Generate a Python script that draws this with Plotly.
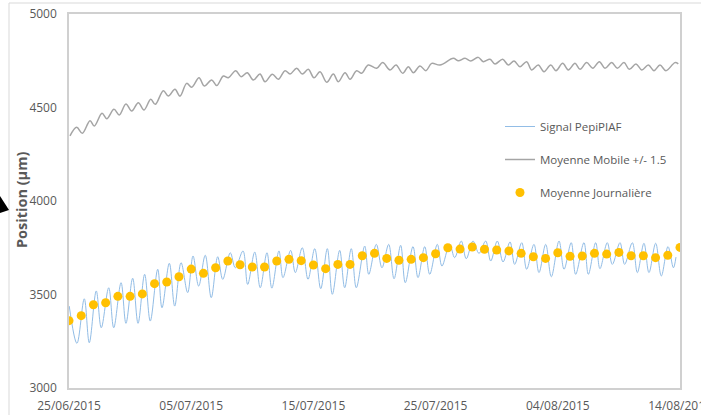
import pandas as pd
import plotly.graph_objects as go

start = pd.Timestamp("2015-06-25")

# Daily mean (one per day, 25/06/2015 .. 14/08/2015)
daily_mean = [3360, 3387, 3445, 3456, 3490, 3490, 3503, 3558, 3567, 3595,
              3636, 3613, 3643, 3679, 3659, 3647, 3647, 3679, 3688, 3681,
              3658, 3638, 3661, 3661, 3707, 3720, 3693, 3683, 3688, 3697,
              3718, 3750, 3743, 3754, 3742, 3738, 3733, 3720, 3702, 3693,
              3723, 3704, 3706, 3720, 3716, 3725, 3707, 3707, 3697, 3710,
              3752]

# PepiPIAF signal: day offset since 25/06/2015 and value (µm)
signal_day = [0.02, 0.65, 1.25, 1.66, 2.23, 2.64, 3.25, 3.66, 4.26, 4.66,
              5.21, 5.65, 6.19, 6.65, 7.26, 7.61, 8.21, 8.65, 9.17, 9.71,
              10.15, 10.61, 11.15, 11.64, 12.17, 12.58, 13.20, 13.61, 14.24, 14.62,
              15.20, 15.65, 16.20, 16.60, 17.18, 17.51, 18.14, 18.52, 19.09, 19.56,
              20.11, 20.60, 21.14, 21.55, 22.15, 22.56, 23.10, 23.51, 24.20, 24.53,
              25.15, 25.61, 26.16, 26.60, 27.14, 27.52, 28.15, 28.56, 29.11, 29.52,
              30.14, 30.52, 31.15, 31.56, 32.10, 32.51, 33.06, 33.55, 34.10, 34.51,
              35.05, 35.52, 36.09, 36.47, 37.05, 37.45, 38.05, 38.46, 39.01, 39.47,
              40.10, 40.51, 41.10, 41.46, 42.14, 42.50, 43.10, 43.45, 44.05, 44.46,
              45.09, 45.47, 46.10, 46.51, 47.05, 47.46, 48.01, 48.47, 49.02, 49.46,
              49.67]
signal_val = [3438, 3239, 3477, 3242, 3519, 3322, 3536, 3322, 3563, 3346,
              3587, 3346, 3608, 3358, 3635, 3429, 3667, 3438, 3670, 3510,
              3706, 3545, 3710, 3483, 3702, 3581, 3723, 3643, 3733, 3554,
              3727, 3536, 3723, 3534, 3733, 3590, 3736, 3617, 3750, 3581,
              3745, 3531, 3745, 3501, 3736, 3536, 3745, 3536, 3759, 3608,
              3768, 3643, 3768, 3584, 3763, 3563, 3756, 3590, 3756, 3608,
              3768, 3652, 3768, 3697, 3786, 3691, 3786, 3720, 3786, 3679,
              3786, 3674, 3781, 3661, 3777, 3635, 3768, 3617, 3768, 3595,
              3786, 3635, 3777, 3608, 3777, 3608, 3777, 3638, 3777, 3661,
              3777, 3661, 3777, 3617, 3774, 3617, 3774, 3599, 3756, 3643,
              3700]

# Moving average +/- 1.5: day offset and value (µm)
mm_day = [0.08, 0.63, 1.09, 1.72, 2.07, 2.70, 3.09, 3.68, 4.11, 4.66,
          5.13, 5.67, 6.14, 6.69, 7.06, 7.72, 8.13, 8.67, 9.08, 9.63,
          10.04, 10.64, 11.07, 11.68, 12.09, 12.63, 13.04, 13.64, 14.08, 14.59,
          15.08, 15.63, 16.04, 16.64, 17.13, 17.68, 18.09, 18.63, 19.09, 19.58,
          20.05, 20.54, 21.09, 21.63, 22.04, 22.59, 23.00, 23.54, 23.95, 24.49,
          25.18, 25.67, 26.27, 26.76, 27.31, 27.77, 28.18, 28.72, 29.21, 29.68,
          30.36, 31.45, 31.86, 32.41, 32.87, 33.49, 33.90, 34.45, 34.86, 35.49,
          35.95, 36.42, 36.91, 37.45, 37.86, 38.40, 38.87, 39.42, 39.85, 40.40,
          40.86, 41.41, 41.82, 42.36, 42.86, 43.40, 43.86, 44.41, 44.87, 45.42,
          45.85, 46.40, 46.87, 47.41, 47.87, 48.36, 48.85, 49.59, 49.86]
mm_val = [4348, 4394, 4362, 4429, 4401, 4469, 4440, 4490, 4460, 4519,
          4481, 4526, 4487, 4544, 4517, 4590, 4561, 4597, 4561, 4629,
          4608, 4659, 4615, 4647, 4617, 4668, 4659, 4697, 4665, 4686,
          4647, 4679, 4638, 4678, 4651, 4697, 4679, 4710, 4679, 4704,
          4659, 4691, 4635, 4679, 4638, 4686, 4651, 4697, 4683, 4727,
          4710, 4740, 4701, 4727, 4683, 4718, 4686, 4722, 4697, 4736,
          4727, 4763, 4750, 4763, 4749, 4768, 4745, 4758, 4733, 4758,
          4727, 4749, 4718, 4745, 4701, 4727, 4691, 4727, 4697, 4736,
          4701, 4736, 4704, 4740, 4710, 4745, 4710, 4740, 4710, 4740,
          4704, 4733, 4701, 4727, 4697, 4727, 4697, 4740, 4733]

tick_dates = ["2015-06-25", "2015-07-05", "2015-07-15", "2015-07-25", "2015-08-04", "2015-08-14"]
tick_text = ["25/06/2015", "05/07/2015", "15/07/2015", "25/07/2015", "04/08/2015", "14/08/2015"]
y_ticks = [3000, 3500, 4000, 4500, 5000]

def to_dates(days):
    return [start + pd.Timedelta(days=d) for d in days]

daily_dates = pd.date_range(start, periods=len(daily_mean), freq="D")

fig = go.Figure()
fig.add_trace(go.Scatter(x=to_dates(signal_day), y=signal_val, mode="lines",
                         name="Signal PepiPIAF", line=dict(color="#92BDE6", width=1, shape="spline"),
                         legendgroup="a"))
fig.add_trace(go.Scatter(x=to_dates(mm_day), y=mm_val, mode="lines",
                         name="Moyenne Mobile +/- 1.5", line=dict(color="#A5A5A5", width=1.5, shape="spline"),
                         legendgroup="b"))
fig.add_trace(go.Scatter(x=daily_dates, y=daily_mean, mode="markers",
                         name="Moyenne Journalière", marker=dict(color="#FFC000", size=9),
                         legendgroup="c"))

L, R, T, B = 69, 21, 14, 27
W, H = 701, 415
pw, ph = W - L - R, H - T - B

def px(xp):
    return (xp - L) / pw

def py(yp):
    return (H - B - yp) / ph

fig.update_layout(
    width=W, height=H,
    margin=dict(l=L, r=R, t=T, b=B, autoexpand=False),
    paper_bgcolor="white", plot_bgcolor="white",
    font=dict(family="Open Sans, sans-serif", size=12, color="#595959"),
    showlegend=True,
    legend=dict(x=px(500), y=py(112), xanchor="left", yanchor="top",
                bgcolor="rgba(0,0,0,0)", font=dict(size=11.5, color="#595959"),
                tracegroupgap=14),
    xaxis=dict(type="date", range=["2015-06-25", "2015-08-14"],
               tickvals=tick_dates, ticktext=tick_text, automargin=False,
               ticklabeloverflow="allow",
               showgrid=False, zeroline=False,
               showline=True, linecolor="#D0D0D0", linewidth=1.5, mirror=True,
               ticks="", ticklabelstandoff=6, tickfont=dict(size=12, color="#595959")),
    yaxis=dict(range=[3000, 5000], tickvals=y_ticks, automargin=False,
               showgrid=False, zeroline=False,
               showline=True, linecolor="#D0D0D0", linewidth=1.5, mirror=True,
               ticks="", ticklabelstandoff=8, tickfont=dict(size=12, color="#595959")),
    annotations=[
        dict(text="<b>Position (µm)</b>", xref="paper", yref="paper",
             x=px(21), y=py(200), xanchor="center", yanchor="middle",
             textangle=-90, showarrow=False,
             font=dict(size=14.5, color="#595959"))
    ],
    shapes=[
        dict(type="line", xref="paper", yref="paper", x0=px(9), x1=px(W), y0=py(3), y1=py(3),
             line=dict(color="#D9D9D9", width=1)),
        dict(type="line", xref="paper", yref="paper", x0=px(9), x1=px(9), y0=py(3), y1=py(H),
             line=dict(color="#D9D9D9", width=1)),
        dict(type="path", xref="paper", yref="paper",
             path=f"M {px(0)},{py(196)} L {px(9)},{py(210)} L {px(0)},{py(213)} Z",
             fillcolor="black", line=dict(width=0)),
    ],
)

fig.write_html("out.html", config={"displayModeBar": False},
               post_script="document.body.style.margin='0';document.body.style.overflow='hidden';")
